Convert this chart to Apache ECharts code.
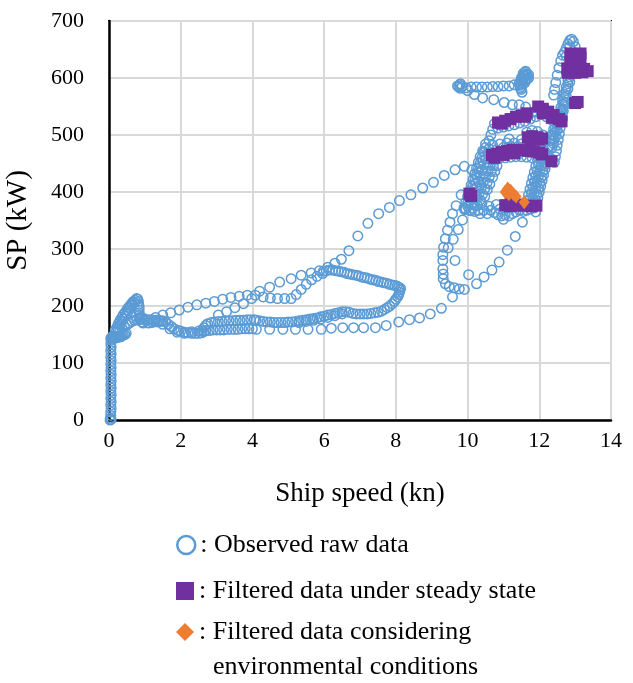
<!DOCTYPE html>
<html><head><meta charset="utf-8">
<script src="https://cdn.jsdelivr.net/npm/echarts@6/dist/echarts.min.js"></script>
<style>html,body{margin:0;padding:0;background:#fff}#c{width:633px;height:683px}</style>
</head><body><div id="c"></div>
<script>
// ---- labels ----
const xAxisTitle = 'Ship speed (kn)';
const yAxisTitle = 'SP (kW)';
const seriesNames = ['Observed raw data', 'Filtered data under steady state', 'Filtered data considering environmental conditions'];
const legendLines = [': Observed raw data', ': Filtered data under steady state', ': Filtered data considering', 'environmental conditions'];
const xRange = [0, 14, 2];
const yRange = [0, 700, 100];

// ---- observed raw data (speed kn, power kW) ----
const rawStart = [[0.03,0],[0.06,1],[0.04,3],[0.05,8],[0.05,14],[0.06,20],[0.05,26],[0.06,32],[0.05,38],[0.06,44],[0.05,50],[0.06,56],[0.05,62],[0.06,68],[0.05,74],[0.06,80],[0.05,86],[0.06,92],[0.05,98],[0.06,104],[0.05,110],[0.06,116],[0.05,122],[0.06,128],[0.05,134],[0.06,140],
  [0.05,143],[0.08,146],[0.1,144],[0.13,147],[0.15,145],[0.18,146],[0.2,144],[0.23,147],[0.25,145],[0.28,146],[0.3,147],[0.33,146],[0.36,148],[0.4,149],[0.44,150],[0.48,152]];
const rawPeak = [[0.17,157],[0.22,163],[0.26,169],[0.31,175],[0.36,180],[0.4,185],[0.45,189],[0.5,193],[0.54,197],[0.59,201],[0.64,205],[0.68,208],[0.73,210],[0.77,213],
  [0.2,154],[0.25,160],[0.3,166],[0.35,172],[0.4,177],[0.45,182],[0.5,187],[0.55,192],[0.6,197],[0.65,202],[0.7,206],
  [0.8,212],[0.82,208],[0.83,203],[0.84,198],[0.84,193],[0.84,188],[0.85,184],[0.86,180],[0.88,176],[0.91,172],[0.95,170],
  [0.3,158],[0.36,161],[0.43,164],[0.5,167],[0.57,170],[0.64,173],[0.71,175],[0.77,176],[0.84,178],[0.91,180]];
const rawLowBand = [[1.0,177],[1.05,174],[1.1,176],[1.19,176],[1.25,173],[1.3,175],[1.39,175],[1.45,173],[1.5,174],[1.58,172],[1.65,168],[1.74,164],[1.82,160],[1.93,157],[2.0,156],[2.11,154],[2.2,153],[2.3,152],[2.4,152],[2.5,152],[2.58,153],[2.65,155],
  [1.1,170],[1.2,171],[1.35,172],[1.5,168],[1.7,160],[1.9,154],[2.1,152],[2.3,155],[2.5,156],
  [2.6,157],[2.7,157],[2.8,157],[2.9,158],[3.0,158],[3.1,158],[3.2,158],[3.3,159],[3.4,159],[3.5,159],[3.6,159],[3.7,160],[3.8,160],[3.9,160],[4.0,160],
  [2.65,162],[2.7,166],[2.75,169],[2.85,171],[2.95,172],[3.05,173],[3.15,173],[3.25,174],[3.35,174],[3.45,174],[3.55,175],[3.65,175],[3.75,175],[3.85,176],[3.95,176],[4.05,176],
  [4.1,175],[4.2,174],[4.3,173],[4.4,172],[4.5,172],[4.6,171],[4.7,171],[4.8,171],[4.9,171],[5.0,172],[5.1,172],[5.2,173],[5.3,174],[5.4,175],[5.5,176],[5.6,177],[5.7,178],[5.8,179],[5.9,181],[6.0,182],[6.1,184],[6.2,185],[6.3,187],[6.4,188],[6.5,190],[6.6,190],[6.7,189],[6.8,187],[6.9,186],[7.0,186],[7.1,186],[7.2,186],[7.3,187],[7.4,188],[7.5,189],[7.6,191],[7.68,194],[7.76,197],[7.83,200],[7.9,204],[7.96,208],[8.0,212],[8.05,216],[8.08,220],[8.1,224],[8.12,228],[8.13,231],
  [5.3,171],[5.5,173],[5.7,175],[5.9,177],[6.1,180],[6.3,183],[6.5,186]];
const rawLoopTop = [[8.08,233],[8.03,235],[7.97,236],[7.9,237],[7.82,238],[7.74,240],[7.66,241],[7.59,242],[7.51,243],[7.44,245],[7.36,246],[7.28,247],[7.2,249],[7.12,250],[7.04,251],[6.96,253],[6.89,254],[6.8,255],[6.72,256],[6.64,257],[6.56,259],[6.48,260],[6.4,261],[6.32,262],[6.24,263],[6.15,263],[6.06,262],[5.98,261]];
const rawChainA = [[1.3,180],[1.5,184],[1.72,188],[1.96,193],[2.2,198],[2.45,202],[2.7,205],[2.94,208],[3.17,212],[3.4,215],[3.63,217],[3.86,219],[4.08,219],
  [4.3,216],[4.5,214],[4.7,213],[4.9,213],[5.08,213],[5.22,220],[5.36,229],[5.5,238],[5.65,246],[5.8,252],[5.96,257]];
const rawChainB = [[3.05,184],[3.28,190],[3.51,197],[3.75,204],[3.98,213],[4.2,226],[4.48,233],[4.76,242],[5.08,248],[5.36,254],[5.64,258],[5.87,262],[6.1,268],[6.3,275],[6.48,282],[6.69,297],[6.94,323],[7.22,345],[7.52,362],[7.82,373],[8.1,385],[8.42,395],[8.75,407],[9.05,417],[9.35,429],[9.65,439],[9.91,445],[10.12,439]];
const rawLowChain = [[4.11,159],[4.48,159],[4.85,159],[5.2,159],[5.55,159],[5.92,159],[6.2,161],[6.52,162],[6.82,162],[7.1,162],[7.43,162],[7.73,166],[8.08,172],[8.38,176],[8.66,179],[8.96,186],[9.27,196],[9.58,216]];
const rawLeftLoop = [[9.82,395],[9.68,376],[9.58,362],[9.51,347],[9.44,333],[9.38,318],[9.33,303],[9.31,290],[9.31,280],[9.31,265],[9.32,256],[9.32,248],[9.38,239],[9.49,234],[9.63,232],[9.77,230],[9.91,229],
  [9.92,369],[9.86,351],[9.74,334],[9.6,317],[9.46,302],[9.65,280],
  [10.03,255],[10.25,239],[10.46,251],[10.68,263],[10.88,277],[11.11,298],[11.33,322],[11.53,347]];
const rawMeshLeft = [[9.9,372],[9.95,382],[10.0,392],[10.05,402],[10.1,412],[10.15,422],[10.2,432],[10.25,442],[10.3,452],[10.35,462],[10.42,472],[10.5,478],
  [10.05,368],[10.1,378],[10.15,388],[10.2,398],[10.25,408],[10.3,418],[10.35,428],[10.4,438],[10.45,448],[10.5,458],[10.57,468],
  [10.2,366],[10.28,376],[10.35,386],[10.42,396],[10.48,406],[10.54,416],[10.6,426],[10.66,436],[10.72,446],[10.78,456],
  [10.0,375],[10.12,395],[10.22,415],[10.32,435],[10.42,455],[10.15,372],[10.25,392],[10.35,412],[10.45,432],[10.55,452],
  [9.95,370],[10.0,380],[10.05,390],[10.1,400],[10.15,410],[10.2,420],[10.25,430],[10.3,440],[10.35,450],[10.4,460],[10.47,470],
  [10.1,367],[10.18,377],[10.25,387],[10.32,397],[10.38,407],[10.44,417],[10.5,427],[10.56,437],[10.62,447],[10.68,457],[10.75,466],
  [10.3,368],[10.4,380],[10.48,392],[10.55,404],[10.62,414],[10.7,426],[10.76,436],[10.82,446]];
const rawMeshRight = [[11.62,375],[11.66,385],[11.7,395],[11.74,405],[11.78,415],[11.82,425],[11.86,435],[11.9,445],[11.95,455],[12.0,465],
  [11.78,378],[11.82,388],[11.86,398],[11.9,408],[11.94,418],[11.98,428],[12.02,438],[12.06,448],[12.1,458],[12.15,468],
  [11.92,380],[11.96,390],[12.0,400],[12.04,410],[12.08,420],[12.12,430],[12.16,440],[12.2,450],[12.25,460],
  [11.7,377],[11.74,387],[11.78,397],[11.82,407],[11.86,417],[11.9,427],[11.94,437],[11.98,447],[12.03,457],[12.08,467],
  [11.86,376],[11.9,386],[11.94,396],[11.98,406],[12.02,416],[12.06,426],[12.1,436],[12.14,446],[12.18,456],[12.22,466]];
const rawMeshBottom = [[10.35,362],[10.45,368],[10.55,362],[10.65,368],[10.75,364],[10.85,360],[10.95,358],[11.05,360],[11.15,358],[11.25,362],[11.35,365],[11.45,368],[11.55,366],[11.65,368],[11.75,370],[11.85,372],[10.9,370],[11.1,372],[11.3,374],[11.5,376],[10.6,375],[10.8,378],[11.9,365],[11.0,352]];
const rawMeshMiddle = [[10.45,470],[10.6,466],[10.75,462],[10.9,460],[11.05,460],[11.2,461],[11.35,462],[11.5,462],[11.65,461],[11.8,460],[11.95,462],[12.1,466],
  [10.5,484],[10.7,482],[10.9,484],[11.1,486],[11.3,486],[11.5,484],[11.7,482],[11.9,480],[12.1,478],
  [10.6,476],[10.8,474],[11.0,478],[11.2,480],[11.4,480],[11.6,478],[11.8,476],[12.0,474],[12.15,472],
  [10.6,490],[10.65,500],[10.7,510],[10.75,520],[11.16,493],[12.25,480],[12.3,490],[12.35,500],[12.4,510],
  [10.85,512],[11.0,514],[11.15,516],[11.3,518],[11.45,521],[11.6,524],[11.75,528],[11.9,532],[12.05,536],[12.2,532],[12.35,526],[12.5,520],
  [11.9,542],[12.05,544],[12.2,540],[12.35,536],[12.5,532],[12.65,528],
  [11.5,492],[11.65,505],[11.8,508],[11.95,506],[12.1,500]];
const rawColumn = [[12.42,452],[12.45,462],[12.48,472],[12.5,482],[12.53,492],[12.56,502],[12.58,512],[12.61,522],[12.64,532],[12.67,542],[12.7,552],
  [12.3,480],[12.35,490],[12.4,500],[12.45,512],[12.5,524],[12.55,536],[12.6,548],[12.65,560],[12.7,572],[12.75,584],[12.8,596],[12.85,608],
  [12.4,485],[12.45,497],[12.5,509],[12.55,521],[12.6,533],[12.65,545],[12.7,557],[12.75,569],[12.8,581],[12.85,593],[12.9,605],
  [12.35,478],[12.4,492],[12.45,505],[12.5,518],[12.55,530],[12.6,542],[12.65,554],[12.7,566],[12.75,578],[12.8,590],[12.85,602],[12.9,614],[12.95,625],
  [12.4,570],[12.43,580],[12.46,592],[12.5,605],[12.55,618],[12.6,630],[12.65,640],
  [12.7,645],[12.75,652],[12.8,660],[12.85,666],[12.9,668],[12.95,664],[13.0,655],[12.85,655],[12.75,638]];
const rawUpper = [[9.72,586],[9.78,588],[9.85,585],[9.96,583],[10.1,584],[10.25,584],[10.4,584],[10.55,584],[10.7,585],[10.85,585],[11.0,586],[11.16,586],[11.3,588],[11.44,590],[11.5,595],[11.56,600],[11.6,604],[11.64,607],[11.58,603],[11.52,598],[11.62,598],[11.55,590],[11.5,585],
  [11.5,580],[11.52,575],[11.45,592],[11.6,610],[11.66,605],[11.7,600],[11.55,608],[9.75,584],[9.8,590],
  [11.48,588],[11.54,594],[11.6,592],[11.66,598],[11.7,606],[11.62,612],[11.56,605],[11.5,600],[11.47,582],
  [9.8,582],[10.0,578],[10.19,571],[10.42,565],[10.73,562],[11.02,557],[11.25,553],[11.44,553],[11.62,549],[11.85,540]];

// ---- filtered data under steady state ----
const steadyData = [[12.87,643],[13.0,642],[13.15,643],[12.87,635],[13.15,636],[12.78,617],[12.95,615],[13.1,618],[13.25,616],[13.35,612],[12.8,609],[13.0,609],[13.2,610],
  [13.0,556],[13.07,558],
  [11.97,550],[12.1,546],[12.25,541],[12.4,535],[12.55,528],[12.62,524],[12.1,538],[12.35,530],
  [10.85,522],[10.95,520],[11.05,525],[11.2,528],[11.35,532],[11.5,534],[11.6,532],[11.65,538],
  [11.68,496],[11.8,498],[11.95,496],[12.08,494],[11.75,492],[12.0,492],
  [10.68,465],[10.82,467],[10.95,470],[11.1,472],[11.25,474],[11.4,474],[11.55,473],[11.7,472],[11.85,471],[12.0,469],[12.08,466],[10.75,460],[11.0,465],[11.3,468],
  [12.34,454],[10.05,397],[10.1,393],
  [11.05,377],[11.18,375],[11.3,376],[11.45,378],[11.6,376],[11.78,375],[11.92,376],[11.2,382]];

// ---- filtered data considering environmental conditions ----
const envData = [[11.05,400],[11.12,406],[11.2,402],[11.28,396],[11.15,396],[11.35,392],[11.58,382]];

const rawData = [].concat(rawStart, rawPeak, rawLowBand, rawLoopTop, rawChainA, rawChainB, rawLowChain,
  rawLeftLoop, rawMeshLeft, rawMeshRight, rawMeshBottom, rawMeshMiddle, rawColumn, rawUpper);

const serif = '"Liberation Serif","Times New Roman",serif';
const chart = echarts.init(document.getElementById('c'), null, {renderer: 'canvas'});
const legendBase = {orient: 'vertical', left: 176, padding: 0, itemWidth: 18, itemHeight: 18, itemGap: 0,
  selectedMode: false, textStyle: {fontFamily: serif, fontSize: 26, color: '#000'}};
chart.setOption({
  backgroundColor: '#fff',
  animation: false,
  grid: {left: 109, right: 22, top: 21, bottom: 263, containLabel: false, outerBoundsMode: 'none',
    show: true, borderColor: '#000', borderWidth: 2, backgroundColor: 'transparent'},
  xAxis: {type: 'value', min: xRange[0], max: xRange[1], interval: xRange[2],
    name: xAxisTitle, nameLocation: 'middle', nameGap: 60,
    nameTextStyle: {fontFamily: serif, fontSize: 27, color: '#000'},
    axisLine: {show: true, lineStyle: {color: '#000', width: 2.5}},
    axisTick: {show: false},
    axisLabel: {fontFamily: serif, fontSize: 22, color: '#000', margin: 10},
    splitLine: {show: true, lineStyle: {color: '#d9d9d9', width: 2}}},
  yAxis: {type: 'value', min: yRange[0], max: yRange[1], interval: yRange[2],
    name: yAxisTitle, nameLocation: 'middle', nameGap: 76,
    nameTextStyle: {fontFamily: serif, fontSize: 29, color: '#000'},
    axisLine: {show: true, lineStyle: {color: '#000', width: 2.5}},
    axisTick: {show: false},
    axisLabel: {fontFamily: serif, fontSize: 22, color: '#000', margin: 25},
    splitLine: {show: true, lineStyle: {color: '#d9d9d9', width: 2}}},
  legend: [
    Object.assign({}, legendBase, {top: 532, data: [{name: seriesNames[0], icon: 'circle', itemStyle: {color: 'rgba(0,0,0,0)', borderColor: '#5b9bd5', borderWidth: 2.5, opacity: 1}}], formatter: () => legendLines[0]}),
    Object.assign({}, legendBase, {top: 578, data: [{name: seriesNames[1], icon: 'rect', itemStyle: {color: '#7030a0', opacity: 1}}], formatter: () => legendLines[1]}),
    Object.assign({}, legendBase, {top: 619, data: [{name: seriesNames[2], icon: 'diamond', itemStyle: {color: '#ed7d31', opacity: 1}}], formatter: () => legendLines[2]})
  ],
  graphic: [{type: 'text', left: 213, top: 654, style: {text: legendLines[3], font: '26px ' + serif, fill: '#000'}}],
  series: [
    {name: seriesNames[0], type: 'scatter', data: rawData, symbol: 'circle', symbolSize: 9.5,
      itemStyle: {color: 'rgba(0,0,0,0)', borderColor: '#5b9bd5', borderWidth: 1.5, opacity: 1}, z: 2},
    {name: seriesNames[1], type: 'scatter', data: steadyData, symbol: 'rect', symbolSize: 12,
      itemStyle: {color: '#7030a0', opacity: 1}, z: 3},
    {name: seriesNames[2], type: 'scatter', data: envData, symbol: 'diamond', symbolSize: [11, 14],
      itemStyle: {color: '#ed7d31', opacity: 1}, z: 4}
  ]
});
</script></body></html>
